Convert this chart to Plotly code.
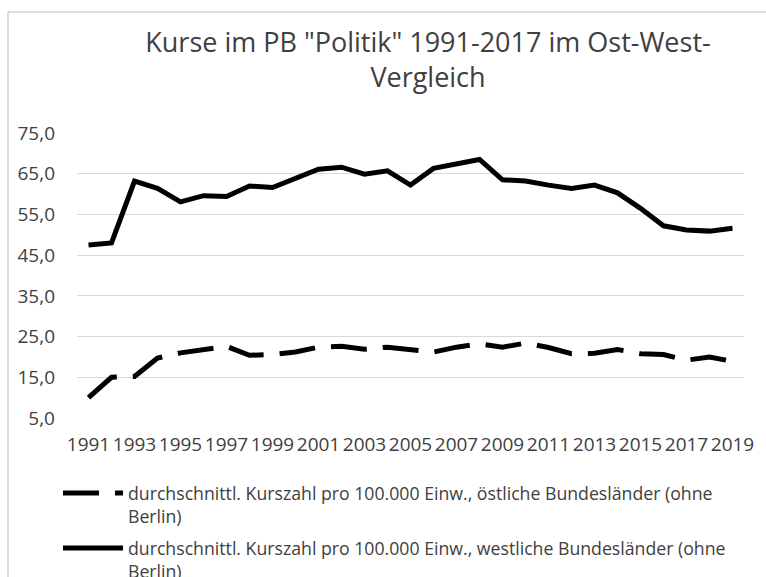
import plotly.graph_objects as go

years = list(range(1991, 2020))
east = [10.0, 15.0, 15.2, 19.7, 21.0, 21.7, 22.6, 20.4, 20.6, 21.2, 22.4, 22.6, 21.9, 22.4,
        21.8, 21.2, 22.4, 23.2, 22.4, 23.4, 22.3, 20.8, 20.9, 21.8, 20.8, 20.6, 19.2, 20.0, 18.9]
west = [47.5, 48.0, 63.2, 61.4, 58.1, 59.6, 59.4, 62.0, 61.6, 64.0, 66.1, 66.6, 64.9, 65.7,
        62.2, 66.3, 67.3, 68.5, 63.5, 63.2, 62.2, 61.4, 62.2, 60.3, 56.5, 52.2, 51.2, 50.9, 51.6]
tick_years = list(range(1991, 2020, 2))
y_ticks = [5, 15, 25, 35, 45, 55, 65, 75]

name_east = "durchschnittl. Kurszahl pro 100.000 Einw., östliche Bundesländer (ohne<br>Berlin)"
name_west = "durchschnittl. Kurszahl pro 100.000 Einw., westliche Bundesländer (ohne<br>Berlin)"
title = 'Kurse im PB "Politik" 1991-2017 im Ost-West-<br>Vergleich'

FONT = "Open Sans"
GREY = "#404040"

fig = go.Figure()
fig.add_trace(go.Scatter(x=years, y=east, mode="lines", name=name_east, legendgroup="e",
                         line=dict(color="black", width=5, dash="36px,16px")))
fig.add_trace(go.Scatter(x=years, y=west, mode="lines", name=name_west, legendgroup="w",
                         line=dict(color="black", width=5)))

W, H = 766, 577
L, R, T, B = 77, 22, 133, 159
pw, ph = W - L - R, H - T - B

def px_x(p):
    return (p - L) / pw

def px_y(p):
    return (H - B - p) / ph

fig.update_layout(
    width=W, height=H,
    margin=dict(l=L, r=R, t=T, b=B, autoexpand=False),
    paper_bgcolor="white", plot_bgcolor="white",
    separators=",.",
    font=dict(family=FONT, color=GREY),
    title=dict(text=title, x=428 / W, xref="container", xanchor="center",
               y=1 - 52 / H, yref="container", yanchor="top",
               font=dict(family=FONT, size=27, color=GREY)),
    xaxis=dict(range=[1990.5, 2019.5], tickmode="array", tickvals=tick_years,
               ticktext=[str(y) for y in tick_years], showgrid=False, zeroline=False,
               showline=False, ticks="", tickfont=dict(size=19, color=GREY),
               ticklabelstandoff=13, fixedrange=True),
    yaxis=dict(range=[5, 75], tickmode="array", tickvals=y_ticks, tickformat=".1f",
               showgrid=True, gridcolor="#d9d9d9", gridwidth=1, zeroline=False,
               showline=False, ticks="", tickfont=dict(size=19, color=GREY),
               ticklabelstandoff=21, fixedrange=True),
    showlegend=True,
    legend=dict(orientation="v", x=px_x(58), xanchor="left", y=px_y(475), yanchor="top",
                font=dict(family=FONT, size=17.7, color=GREY), valign="top",
                traceorder="grouped", tracegroupgap=6, itemwidth=60,
                bgcolor="rgba(0,0,0,0)"),
    shapes=[
        dict(type="line", xref="paper", yref="paper", x0=px_x(8), x1=px_x(800),
             y0=px_y(12), y1=px_y(12), line=dict(color="#d0d0d0", width=1.5)),
        dict(type="line", xref="paper", yref="paper", x0=px_x(8), x1=px_x(8),
             y0=px_y(12), y1=px_y(600), line=dict(color="#d0d0d0", width=1.5)),
    ],
)

fig.write_html("out.html", config={"displayModeBar": False},
               post_script="document.body.style.margin='0';document.body.style.overflow='hidden';")
